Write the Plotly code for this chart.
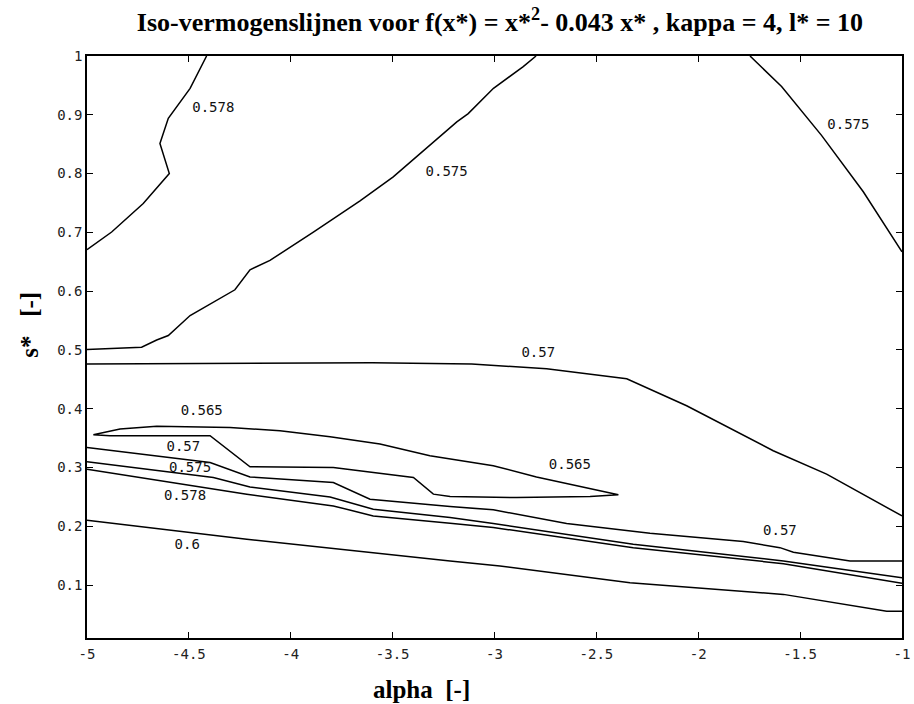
import plotly.graph_objects as go

# ---- contour line data (alpha, s*) ----
c578_top_x = [-5.0, -4.879, -4.724, -4.596, -4.642, -4.601, -4.494, -4.413]
c578_top_y = [0.6705, 0.7006, 0.749, 0.800, 0.851, 0.894, 0.945, 1.0]

c575_left_x = [-5.0, -4.732, -4.658, -4.601, -4.494, -4.274, -4.2, -4.102, -3.889, -3.66,
               -3.497, -3.30, -3.185, -3.129, -3.005, -2.859, -2.796]
c575_left_y = [0.5006, 0.5046, 0.517, 0.5245, 0.5585, 0.6023, 0.6364, 0.6523, 0.7006, 0.7534,
               0.7943, 0.854, 0.888, 0.902, 0.945, 0.982, 1.0]

c575_right_x = [-1.746, -1.591, -1.395, -1.19, -1.0]
c575_right_y = [1.0, 0.948, 0.865, 0.769, 0.667]

c570_upper_x = [-5.0, -4.2, -3.6, -3.112, -2.744, -2.351, -2.057, -1.632, -1.37, -1.0]
c570_upper_y = [0.4762, 0.477, 0.478, 0.476, 0.468, 0.451, 0.405, 0.3285, 0.2887, 0.2177]

c565_loop_x = [-4.969, -4.838, -4.658, -4.298, -4.053, -3.807, -3.562, -3.317, -3.006, -2.794,
               -2.392, -2.531, -2.891, -3.218, -3.30, -3.398, -3.791, -4.2, -4.396, -4.887, -4.969]
c565_loop_y = [0.3557, 0.3655, 0.370, 0.3682, 0.3626, 0.3523, 0.3399, 0.320, 0.303, 0.284,
               0.2535, 0.2507, 0.249, 0.2506, 0.2547, 0.283, 0.300, 0.3012, 0.354, 0.354, 0.3557]

c570_lower_x = [-5.0, -4.396, -4.2, -3.791, -3.611, -3.218, -3.006, -2.646, -2.237, -1.779,
                -1.599, -1.533, -1.255, -1.0]
c570_lower_y = [0.334, 0.3085, 0.284, 0.2745, 0.2461, 0.2335, 0.228, 0.2046, 0.188, 0.174,
                0.1637, 0.156, 0.141, 0.141]

c575_lower_x = [-5.0, -4.38, -4.2, -3.807, -3.595, -3.218, -3.006, -2.319, -1.582, -1.0]
c575_lower_y = [0.310, 0.283, 0.267, 0.25, 0.229, 0.2148, 0.2046, 0.1694, 0.141, 0.1125]

c578_lower_x = [-5.0, -4.216, -3.791, -3.595, -3.218, -3.006, -2.319, -1.582, -1.0]
c578_lower_y = [0.297, 0.2547, 0.2347, 0.2177, 0.2052, 0.198, 0.1637, 0.1364, 0.103]

c600_x = [-5.0, -4.216, -3.218, -2.973, -2.335, -1.582, -1.075, -1.0]
c600_y = [0.2103, 0.178, 0.141, 0.1325, 0.104, 0.0842, 0.0557, 0.0557]

# contour labels
label_text = ["0.578", "0.575", "0.575", "0.57", "0.565", "0.57", "0.575", "0.565",
              "0.578", "0.57", "0.6"]
label_x = [-4.38, -3.235, -1.263, -2.785, -4.437, -4.527, -4.494, -2.63, -4.519, -1.599, -4.508]
label_y = [0.911, 0.801, 0.882, 0.494, 0.395, 0.334, 0.299, 0.303, 0.2507, 0.192, 0.1677]

# axis ticks
x_ticks = [-5, -4.5, -4, -3.5, -3, -2.5, -2, -1.5, -1]
x_tick_text = ["-5", "-4.5", "-4", "-3.5", "-3", "-2.5", "-2", "-1.5", "-1"]
y_ticks = [0.1, 0.2, 0.3, 0.4, 0.5, 0.6, 0.7, 0.8, 0.9, 1.0]
y_tick_text = ["0.1", "0.2", "0.3", "0.4", "0.5", "0.6", "0.7", "0.8", "0.9", "1"]

lines = [
    (c578_top_x, c578_top_y),
    (c575_left_x, c575_left_y),
    (c575_right_x, c575_right_y),
    (c570_upper_x, c570_upper_y),
    (c565_loop_x, c565_loop_y),
    (c570_lower_x, c570_lower_y),
    (c575_lower_x, c575_lower_y),
    (c578_lower_x, c578_lower_y),
    (c600_x, c600_y),
]

MONO = "DejaVu Sans Mono"
SERIF = "Liberation Serif"

fig = go.Figure()
for xs, ys in lines:
    fig.add_trace(go.Scatter(x=xs, y=ys, mode="lines",
                             line=dict(color="black", width=1.5),
                             hoverinfo="skip", showlegend=False))

fig.add_trace(go.Scatter(x=label_x, y=label_y, mode="text", text=label_text,
                         textfont=dict(family=MONO, size=14, color="#111"),
                         textposition="middle center", hoverinfo="skip", showlegend=False))

fig.update_layout(
    autosize=False,
    width=914, height=704,
    paper_bgcolor="white", plot_bgcolor="white",
    margin=dict(l=87, r=12, t=56, b=66),
    title=dict(
        text="<b>Iso-vermogenslijnen voor f(x*) = x*<sup>2</sup>- 0.043 x* , kappa = 4, l* = 10</b>",
        font=dict(family=SERIF, size=26, color="black"),
        x=0.547, xanchor="center", y=0.969, yanchor="middle"),
    showlegend=False,
    annotations=[
        dict(text="<b>alpha&nbsp;&nbsp;[-]</b>", xref="paper", yref="paper",
             x=0.41, y=-0.089, xanchor="center", yanchor="middle", showarrow=False,
             font=dict(family=SERIF, size=25, color="black")),
        dict(text="<b>s*&nbsp;&nbsp;&nbsp;[-]</b>", xref="paper", yref="paper",
             x=-0.07, y=0.538, xanchor="center", yanchor="middle", showarrow=False,
             textangle=-90, font=dict(family=SERIF, size=25, color="black")),
    ],
)
fig.update_xaxes(
    range=[-5, -1], tickvals=x_ticks, ticktext=x_tick_text,
    showgrid=False, zeroline=False, showline=True, linecolor="black", linewidth=1.5,
    mirror="allticks", ticks="inside", ticklen=6, tickcolor="black",
    ticklabelstandoff=2, automargin=False,
    tickfont=dict(family=MONO, size=14, color="#222"),
)
fig.update_yaxes(
    range=[0.01, 1], tickvals=y_ticks, ticktext=y_tick_text,
    showgrid=False, zeroline=False, showline=True, linecolor="black", linewidth=1.5,
    mirror="allticks", ticks="inside", ticklen=6, tickcolor="black",
    automargin=False,
    tickfont=dict(family=MONO, size=14, color="#222"),
)
fig.write_html("out.html",
               config={"responsive": False, "displayModeBar": False},
               post_script="document.body.style.margin='0px';")
